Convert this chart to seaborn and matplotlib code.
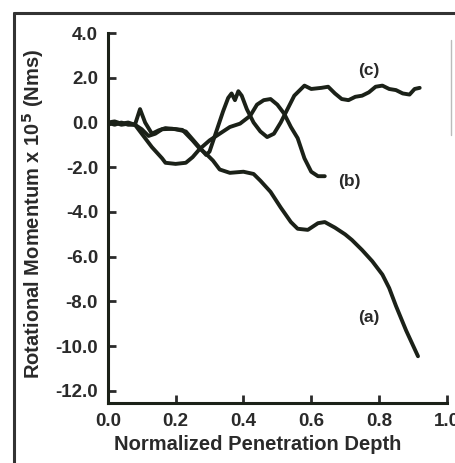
import matplotlib
matplotlib.use("Agg")
import matplotlib.pyplot as plt
import seaborn as sns
import pandas as pd
from matplotlib.lines import Line2D

# ---- data ----
a_x = [0.00, 0.02, 0.04, 0.06, 0.08, 0.10, 0.12, 0.14, 0.16, 0.19, 0.22, 0.25, 0.27, 0.29,
       0.31, 0.33, 0.36, 0.40, 0.43, 0.45, 0.48, 0.51, 0.54, 0.56, 0.59, 0.62, 0.64, 0.67,
       0.70, 0.72, 0.75, 0.78, 0.81, 0.83, 0.85, 0.88, 0.915]
a_y = [0.0, -0.1, 0.0, -0.1, -0.1, -0.3, -0.6, -0.5, -0.3, -0.28, -0.33, -0.8, -1.15, -1.4,
       -1.7, -2.1, -2.25, -2.2, -2.3, -2.6, -3.1, -3.8, -4.45, -4.75, -4.8, -4.5, -4.45, -4.7,
       -5.0, -5.25, -5.7, -6.2, -6.8, -7.4, -8.2, -9.3, -10.45]

b_x = [0.00, 0.02, 0.04, 0.06, 0.08, 0.10, 0.13, 0.16, 0.17, 0.20, 0.23, 0.25, 0.27, 0.30,
       0.33, 0.36, 0.39, 0.42, 0.44, 0.46, 0.48, 0.50, 0.52, 0.54, 0.56, 0.58, 0.60, 0.62, 0.64]
b_y = [0.0, 0.05, -0.05, 0.0, -0.1, -0.5, -1.1, -1.6, -1.8, -1.85, -1.8, -1.55, -1.2, -0.8,
       -0.5, -0.2, -0.05, 0.3, 0.8, 1.0, 1.05, 0.8, 0.4, -0.2, -0.7, -1.6, -2.2, -2.4, -2.4]

c_x = [0.00, 0.02, 0.04, 0.06, 0.08, 0.095, 0.11, 0.13, 0.15, 0.17, 0.20, 0.23, 0.25, 0.27,
       0.29, 0.30, 0.32, 0.34, 0.355, 0.365, 0.375, 0.385, 0.395, 0.41, 0.43, 0.45, 0.47, 0.49,
       0.51, 0.53, 0.55, 0.58, 0.60, 0.63, 0.65, 0.67, 0.69, 0.71, 0.73, 0.75, 0.77, 0.79, 0.81,
       0.83, 0.85, 0.87, 0.89, 0.905, 0.92]
c_y = [-0.1, 0.0, -0.1, -0.05, -0.1, 0.6, 0.0, -0.5, -0.35, -0.25, -0.3, -0.4, -0.75, -1.1,
       -1.45, -1.3, -0.4, 0.5, 1.1, 1.3, 1.0, 1.4, 1.2, 0.6, 0.0, -0.4, -0.65, -0.5,
       0.0, 0.6, 1.2, 1.65, 1.5, 1.55, 1.6, 1.3, 1.05, 1.0, 1.15, 1.2, 1.35, 1.6, 1.65,
       1.5, 1.45, 1.3, 1.25, 1.5, 1.55]

curve_labels = ["(a)", "(b)", "(c)"]
label_pos_x = [0.769, 0.712, 0.769]
label_pos_y = [-8.7, -2.64, 2.33]

x_ticks = [0.0, 0.2, 0.4, 0.6, 0.8, 1.0]
y_ticks = [4.0, 2.0, 0.0, -2.0, -4.0, -6.0, -8.0, -10.0, -12.0]

frames = []
for name, xs, ys in zip(curve_labels, [a_x, b_x, c_x], [a_y, b_y, c_y]):
    frames.append(pd.DataFrame({"x": xs, "y": ys, "curve": name}))
df = pd.concat(frames, ignore_index=True)

sns.set_theme(style="ticks")
plt.rcParams["font.family"] = ["Liberation Sans", "DejaVu Sans"]
plt.rcParams["font.weight"] = "bold"

line_color = "#1b2118"
text_color = "#2a2a2a"

fig = plt.figure(figsize=(4.55, 4.63), dpi=100)
ax = fig.add_axes([0.237, 0.1296, 0.745, 0.799])

for name in curve_labels:
    sub = df[df["curve"] == name]
    sns.lineplot(data=sub, x="x", y="y", sort=False, estimator=None, ax=ax,
                 color=line_color, linewidth=2.8, legend=False)

for lab, lx, ly in zip(curve_labels, label_pos_x, label_pos_y):
    ax.text(lx, ly, lab, ha="center", va="center", fontsize=12.5, fontweight="bold",
            color=text_color)

ax.set_xlim(0.0, 1.0)
ax.set_ylim(-12.54, 4.0)
ax.set_xticks(x_ticks)
ax.set_yticks(y_ticks)
ax.set_xticklabels([f"{v:.1f}" for v in x_ticks])
ax.set_yticklabels([f"{v:.1f}" for v in y_ticks])
ax.tick_params(axis="both", direction="in", length=6, width=2, colors=text_color,
               labelsize=13.5, pad=7)
for t in ax.get_xticklabels() + ax.get_yticklabels():
    t.set_fontweight("bold")

sns.despine(ax=ax)
for s in ["left", "bottom"]:
    ax.spines[s].set_linewidth(2.2)
    ax.spines[s].set_color(line_color)

ax.set_xlabel("Normalized Penetration Depth", fontsize=14.5, fontweight="bold",
              color=text_color)
ax.xaxis.set_label_coords(0.442, -0.086)
ax.set_ylabel(r"Rotational Momentum x 10$^{\mathbf{5}}$ (Nms)", fontsize=14.5,
              fontweight="bold", color=text_color)
ax.yaxis.set_label_coords(-0.183, 0.51)

# outer frame lines of the reference image
fig.add_artist(Line2D([14 / 455, 14 / 455], [0, 1 - 13 / 463], transform=fig.transFigure,
                      color="#333333", linewidth=2.2))
fig.add_artist(Line2D([14 / 455, 1.0], [1 - 13 / 463, 1 - 13 / 463], transform=fig.transFigure,
                      color="#333333", linewidth=2.2))
fig.add_artist(Line2D([451 / 455, 451 / 455], [1 - 40 / 463, 1 - 135 / 463],
                      transform=fig.transFigure, color="#bbbbbb", linewidth=1.0))

fig.savefig("out.png", dpi=100)
